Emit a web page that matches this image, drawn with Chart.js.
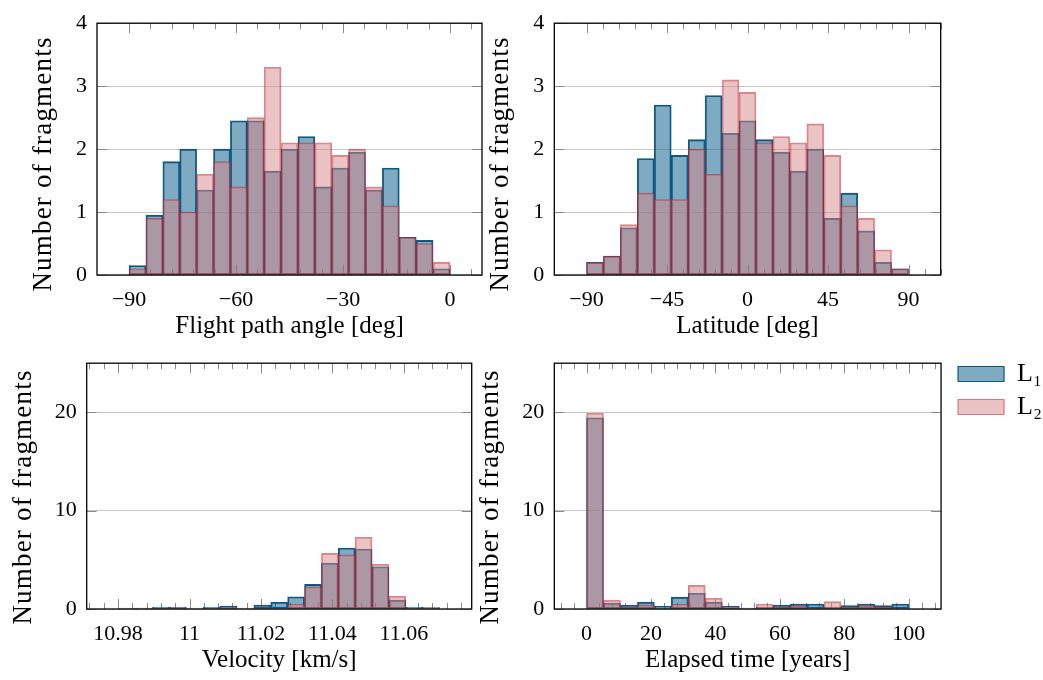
<!DOCTYPE html>
<html>
<head>
<meta charset="utf-8">
<title>Fragmentos</title>
<script src="https://cdn.jsdelivr.net/npm/chart.js@4.4.1/dist/chart.umd.min.js"></script>
<style>
  html, body { margin: 0; padding: 0; background: #fff; }
  #figura { position: relative; width: 1043px; height: 680px; overflow: hidden; }
  #figura canvas { position: absolute; }
</style>
</head>
<body>
<div id="figura">
  <canvas id="g_fpa" width="510" height="345" style="left:0;top:0"></canvas>
  <canvas id="g_lat" width="573" height="345" style="left:470px;top:0"></canvas>
  <canvas id="g_vel" width="500" height="340" style="left:0;top:340px"></canvas>
  <canvas id="g_time" width="573" height="340" style="left:470px;top:340px"></canvas>
</div>
<script>
// Datos: 19 clases por histograma, L1 y L2
const fpaRange = [-90, 0];
const fpaTicks = [-90, -60, -30, 0];
const fpaL1 = [0.15, 0.95, 1.80, 2.00, 1.35, 2.00, 2.45, 2.45, 1.65, 2.00, 2.20, 1.40, 1.70, 1.95, 1.35, 1.70, 0.60, 0.55, 0.10];
const fpaL2 = [0.10, 0.90, 1.20, 1.00, 1.60, 1.80, 1.40, 2.50, 3.30, 2.10, 2.10, 2.10, 1.90, 2.00, 1.40, 1.10, 0.60, 0.50, 0.20];

const latRange = [-90, 90];
const latTicks = [-90, -45, 0, 45, 90];
const latL1 = [0.20, 0.30, 0.75, 1.85, 2.70, 1.90, 2.15, 2.85, 2.25, 2.45, 2.15, 1.95, 1.65, 2.00, 0.90, 1.30, 0.70, 0.20, 0.10];
const latL2 = [0.20, 0.30, 0.80, 1.30, 1.20, 1.20, 2.00, 1.60, 3.10, 2.90, 2.10, 2.20, 2.10, 2.40, 1.90, 1.10, 0.90, 0.40, 0.10];

const velRange = [10.9802, 11.0700];
const velTicks = [10.98, 11, 11.02, 11.04, 11.06];
const velL1 = [0.05, 0.10, 0.20, 0.20, 0.00, 0.20, 0.30, 0.05, 0.40, 0.70, 1.25, 2.50, 4.65, 6.20, 6.10, 4.30, 0.90, 0.20, 0.15];
const velL2 = [0.10, 0.00, 0.10, 0.15, 0.10, 0.05, 0.15, 0.10, 0.15, 0.00, 0.50, 2.25, 5.65, 5.50, 7.30, 4.55, 1.30, 0.00, 0.15];

const timeRange = [0, 100];
const timeTicks = [0, 20, 40, 60, 80, 100];
const timeL1 = [19.45, 0.60, 0.40, 0.70, 0.30, 1.20, 1.60, 0.70, 0.30, 0.10, 0.20, 0.40, 0.50, 0.50, 0.20, 0.35, 0.50, 0.35, 0.50];
const timeL2 = [19.90, 0.90, 0.25, 0.40, 0.00, 0.50, 2.40, 1.10, 0.20, 0.00, 0.50, 0.25, 0.35, 0.10, 0.75, 0.25, 0.35, 0.25, 0.00];

const yTicksArriba = [0, 1, 2, 3, 4];
const yTicksAbajo = [0, 10, 20];

const FUENTE = '"Liberation Serif", "DejaVu Serif", serif';
Chart.defaults.font.family = FUENTE;
Chart.defaults.color = '#000';

function formato(v) {
    return (Math.round(v * 1000) / 1000).toString().replace('-', '\u2212');
}

// marcas hacia adentro (abajo de las barras) y el marco del eje (encima)
const marcoEjes = {
    id: 'marcoEjes',
    beforeDatasetsDraw(chart, args, o) {
        const { ctx, chartArea: a, scales: { x, y } } = chart;
        const mayores = x.ticks.map(t => t.value);
        const paso = mayores[1] - mayores[0];
        const menor = paso / 5;
        ctx.save();
        ctx.lineWidth = 1;
        ctx.strokeStyle = '#8a8a8a';
        ctx.beginPath();
        for (let k = o.menoresAntes ? -5 : 0; ; k++) {
            const v = mayores[0] + k * menor;
            if (v > x.max) break;
            if (v < x.min) continue;
            const px = Math.round(x.getPixelForValue(v)) + 0.5;
            const largo = (k % 5 === 0) ? 10 : 6;
            ctx.moveTo(px, a.top); ctx.lineTo(px, a.top + largo);
            ctx.moveTo(px, a.bottom); ctx.lineTo(px, a.bottom - largo);
        }
        y.ticks.forEach(t => {
            const py = Math.round(y.getPixelForValue(t.value)) + 0.5;
            ctx.moveTo(a.left, py); ctx.lineTo(a.left + 10, py);
            ctx.moveTo(a.right, py); ctx.lineTo(a.right - 10, py);
        });
        ctx.stroke();
        ctx.restore();
    },
    afterDatasetsDraw(chart) {
        const { ctx, chartArea: a } = chart;
        ctx.save();
        ctx.strokeStyle = '#000';
        ctx.lineWidth = 1.3;
        ctx.strokeRect(a.left, a.top, a.right - a.left, a.bottom - a.top);
        ctx.restore();
    }
};

// titulo del eje y, corrido hacia abajo como en la figura original
const tituloY = {
    id: 'tituloY',
    afterDraw(chart, args, o) {
        const ctx = chart.ctx;
        ctx.save();
        ctx.font = '27px ' + FUENTE;
        ctx.letterSpacing = '1.2px';
        ctx.fillStyle = '#000';
        ctx.textAlign = 'center';
        ctx.textBaseline = 'middle';
        ctx.translate(o.x, o.y);
        ctx.rotate(-Math.PI / 2);
        ctx.fillText(o.texto, 0, 0);
        ctx.restore();
    }
};

// la leyenda queda pegada al area del grafico, la corremos un poco
const moverLeyenda = {
    id: 'moverLeyenda',
    afterLayout(chart) {
        const l = chart.legend;
        l.left += 10; l.right += 10;
        l.top += 1; l.bottom += 1;
    }
};

function histograma(id, cfg) {
    const ancho = (cfg.range[1] - cfg.range[0]) / cfg.l1.length;
    const centros = cfg.l1.map((_, i) => cfg.range[0] + (i + 0.5) * ancho);
    const margen = 0.1 * (cfg.range[1] - cfg.range[0]);

    return new Chart(document.getElementById(id), {
        type: 'bar',
        data: {
            datasets: [
                {
                    label: 'L\u2081',
                    data: centros.map((x, i) => ({ x: x, y: cfg.l1[i] })),
                    backgroundColor: 'rgba(0, 87, 133, 0.5)',
                    borderColor: 'rgba(5, 80, 125, 0.95)',
                    order: 2
                },
                {
                    label: 'L\u2082',
                    data: centros.map((x, i) => ({ x: x, y: cfg.l2[i] })),
                    backgroundColor: 'rgba(213, 135, 137, 0.5)',
                    borderColor: 'rgba(195, 35, 45, 0.55)',
                    order: 1
                }
            ]
        },
        plugins: cfg.leyenda ? [marcoEjes, tituloY, moverLeyenda] : [marcoEjes, tituloY],
        options: {
            responsive: false,
            animation: false,
            devicePixelRatio: 1,
            events: [],
            layout: { padding: cfg.padding },
            datasets: {
                bar: { grouped: false, barPercentage: 1, categoryPercentage: 1, borderWidth: 1.2, borderSkipped: false }
            },
            plugins: {
                tooltip: { enabled: false },
                marcoEjes: { menoresAntes: !!cfg.menoresAntes },
                tituloY: { texto: 'Number of fragments', x: cfg.tituloY[0], y: cfg.tituloY[1] },
                legend: {
                    display: !!cfg.leyenda,
                    position: 'right',
                    align: 'start',
                    labels: {
                        boxWidth: 46, boxHeight: 15, padding: 7, font: { size: 26 }, color: '#000',
                        sort: (a, b) => a.datasetIndex - b.datasetIndex
                    }
                }
            },
            scales: {
                x: {
                    type: 'linear',
                    min: cfg.range[0] - margen,
                    max: cfg.range[1] + margen,
                    offset: false,
                    grid: { display: false },
                    border: { display: false },
                    afterBuildTicks: s => { s.ticks = cfg.ticks.map(v => ({ value: v })); },
                    afterFit: s => { s.height = cfg.altoX; },
                    ticks: { font: { size: 22 }, padding: 4, maxRotation: 0, autoSkip: false, callback: v => formato(v) },
                    title: { display: true, text: cfg.titulo, font: { size: 25 }, padding: { top: 0, bottom: cfg.padTitX } }
                },
                y: {
                    min: 0,
                    max: cfg.ymax,
                    grid: { color: '#c6c6c6', lineWidth: 1, drawTicks: false },
                    border: { display: false },
                    afterBuildTicks: s => { s.ticks = cfg.yticks.map(v => ({ value: v })); },
                    afterFit: s => { s.width = cfg.anchoY; },
                    ticks: { font: { size: 22 }, padding: 10 },
                    title: { display: false }
                }
            }
        }
    });
}

histograma('g_fpa', {
    range: fpaRange, ticks: fpaTicks, l1: fpaL1, l2: fpaL2, ymax: 4, yticks: yTicksArriba,
    titulo: 'Flight path angle [deg]', tituloY: [44, 164],
    padding: { top: 18, right: 28, bottom: 0, left: 0 }, anchoY: 97, altoX: 70, padTitX: 4
});
histograma('g_lat', {
    range: latRange, ticks: latTicks, l1: latL1, l2: latL2, ymax: 4, yticks: yTicksArriba,
    titulo: 'Latitude [deg]', tituloY: [31, 164],
    padding: { top: 18, right: 102.3, bottom: 0, left: 0 }, anchoY: 84.3, altoX: 70, padTitX: 4
});
histograma('g_vel', {
    range: velRange, ticks: velTicks, l1: velL1, l2: velL2, ymax: 25, yticks: yTicksAbajo,
    titulo: 'Velocity [km/s]', tituloY: [24, 157], menoresAntes: true,
    padding: { top: 13, right: 28.3, bottom: 0, left: 0 }, anchoY: 86.7, altoX: 71, padTitX: 5
});
histograma('g_time', {
    range: timeRange, ticks: timeTicks, l1: timeL1, l2: timeL2, ymax: 25, yticks: yTicksAbajo,
    titulo: 'Elapsed time [years]', tituloY: [21, 157], leyenda: true, menoresAntes: true,
    padding: { top: 13, right: 1, bottom: 0, left: 0 }, anchoY: 84.3, altoX: 71, padTitX: 5
});
</script>
</body>
</html>
